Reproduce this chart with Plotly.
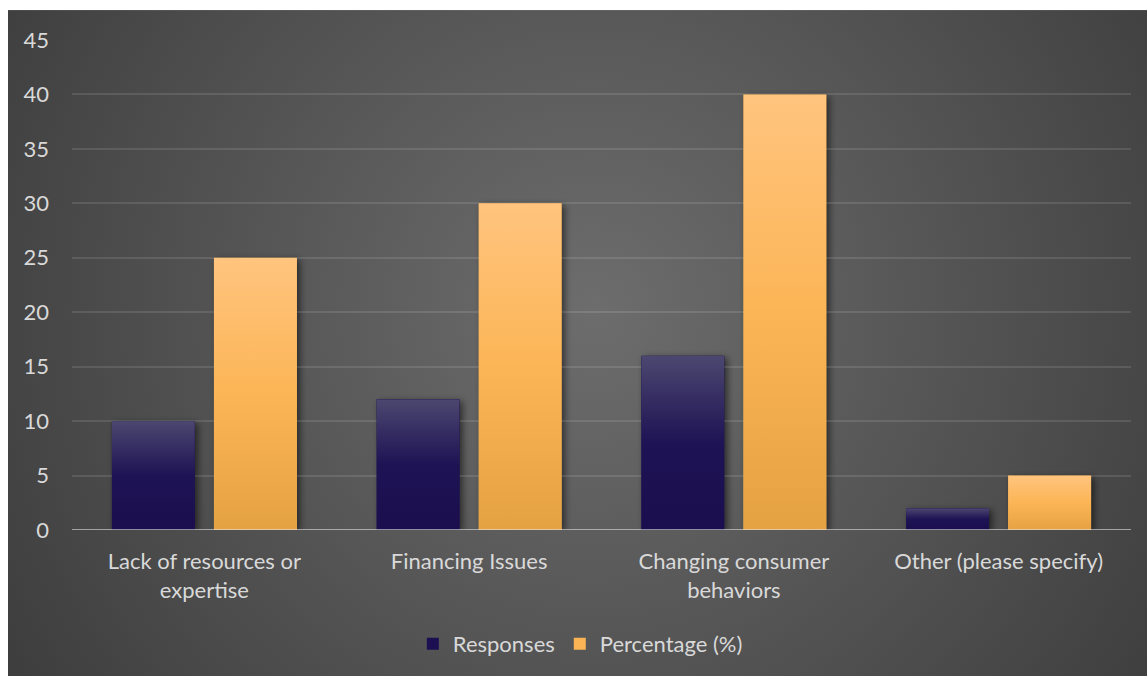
import base64
import plotly.graph_objects as go

# --- data -------------------------------------------------------------
categories = [
    "Lack of resources or expertise",
    "Financing Issues",
    "Changing consumer behaviors",
    "Other (please specify)",
]
tick_labels = [
    "Lack of resources or<br>expertise",
    "Financing Issues",
    "Changing consumer<br>behaviors",
    "Other (please specify)",
]
responses = [10, 12, 16, 2]
percentage = [25, 30, 40, 5]
y_ticks = [0, 5, 10, 15, 20, 25, 30, 35, 40, 45]

# --- layout constants -------------------------------------------------
W, H = 1147, 676
M_L, M_R, M_T, M_B = 72, 16, 40, 145
PLOT_W = W - M_L - M_R
PLOT_H = H - M_T - M_B
Y_MAX = 45
BAR_W = 0.3135
FONT = "Lato"
FONT_SIZE = 22
TEXT_COL = "#d9d9d9"

x_pos = list(range(len(categories)))
px_per_x = PLOT_W / len(categories)
px_per_y = PLOT_H / Y_MAX


def svg_uri(svg):
    return "data:image/svg+xml;base64," + base64.b64encode(svg.encode()).decode()


def gradient_svg(stops):
    st = "".join(f'<stop offset="{o}" stop-color="{c}"/>' for o, c in stops)
    return svg_uri(
        '<svg xmlns="http://www.w3.org/2000/svg" width="100" height="100" '
        'viewBox="0 0 100 100" preserveAspectRatio="none">'
        f'<defs><linearGradient id="g" x1="0" y1="0" x2="0" y2="1">{st}</linearGradient></defs>'
        '<rect x="0" y="0" width="100" height="100" fill="url(#g)"/></svg>'
    )


def shadow_svg(w, h, pad):
    return svg_uri(
        f'<svg xmlns="http://www.w3.org/2000/svg" width="{w + 2 * pad:.1f}" height="{h + 2 * pad:.1f}" '
        f'viewBox="0 0 {w + 2 * pad:.1f} {h + 2 * pad:.1f}" preserveAspectRatio="none">'
        '<defs><filter id="b" x="-50%" y="-50%" width="200%" height="200%">'
        '<feGaussianBlur stdDeviation="3.5"/></filter></defs>'
        f'<rect x="{pad + 3}" y="{pad + 2}" width="{w:.1f}" height="{h:.1f}" '
        'fill="#000" fill-opacity="0.55" filter="url(#b)"/></svg>'
    )


series = [
    dict(name="Responses", values=responses, offset=-0.3495, color="#1c1052",
         stops=[(0, "#4c4770"), (0.5, "#1e1354"), (1, "#1a0e4e")]),
    dict(name="Percentage (%)", values=percentage, offset=0.036, color="#fbb455",
         stops=[(0, "#ffc47e"), (0.5, "#fcb556"), (1, "#e5a242")]),
]

fig = go.Figure()
images = []

# chart-area background: soft radial grey gradient (runs past the right/bottom edge)
bg_w, bg_h = W - 8 + 12, H - 10 + 12
bg_svg = svg_uri(
    f'<svg xmlns="http://www.w3.org/2000/svg" width="{bg_w}" height="{bg_h}" '
    f'viewBox="0 0 {bg_w} {bg_h}" preserveAspectRatio="none">'
    '<defs><radialGradient id="r" gradientUnits="userSpaceOnUse" cx="585" cy="300" r="680">'
    '<stop offset="0" stop-color="#6d6d6d"/><stop offset="1" stop-color="#3e3e3e"/>'
    '</radialGradient></defs>'
    f'<rect x="0" y="0" width="{bg_w}" height="{bg_h}" fill="url(#r)"/></svg>'
)
images.append(dict(
    source=bg_svg, xref="paper", yref="paper",
    x=(8 - M_L) / PLOT_W, y=(H - M_B - 10) / PLOT_H,
    sizex=bg_w / PLOT_W, sizey=bg_h / PLOT_H,
    xanchor="left", yanchor="top", sizing="stretch", layer="below",
))

for s in series:
    fig.add_trace(go.Bar(
        x=x_pos, y=s["values"], name=s["name"],
        width=BAR_W, offset=s["offset"],
        marker=dict(color=s["color"], line=dict(width=0)),
        customdata=categories,
        hovertemplate="%{customdata}<br>" + s["name"] + ": %{y}<extra></extra>",
    ))
    grad = gradient_svg(s["stops"])
    pad = 10
    for xi, v in zip(x_pos, s["values"]):
        # soft drop shadow behind each bar
        images.append(dict(
            source=shadow_svg(BAR_W * px_per_x, v * px_per_y, pad),
            xref="x", yref="y",
            x=xi + s["offset"] - pad / px_per_x, y=v + pad / px_per_y,
            sizex=BAR_W + 2 * pad / px_per_x, sizey=v + 2 * pad / px_per_y,
            xanchor="left", yanchor="top", sizing="stretch", layer="below",
        ))
        # vertical gradient fill over the bar
        images.append(dict(
            source=grad, xref="x", yref="y",
            x=xi + s["offset"], y=v, sizex=BAR_W, sizey=v,
            xanchor="left", yanchor="top", sizing="stretch", layer="above",
        ))

fig.update_layout(
    width=W, height=H,
    margin=dict(l=M_L, r=M_R, t=M_T, b=M_B),
    paper_bgcolor="white",
    plot_bgcolor="rgba(0,0,0,0)",
    font=dict(family=FONT, size=FONT_SIZE, color=TEXT_COL),
    images=images,
    showlegend=True,
    legend=dict(
        orientation="h", x=0.480, xanchor="center",
        y=(H - M_B - 644) / PLOT_H, yanchor="middle",
        font=dict(family=FONT, size=FONT_SIZE, color=TEXT_COL),
        bgcolor="rgba(0,0,0,0)", itemclick=False,
    ),
    shapes=[dict(
        type="line", xref="paper", yref="y", x0=0, x1=1, y0=0, y1=0,
        line=dict(color="rgba(225,225,225,0.6)", width=2), layer="above",
    )],
    xaxis=dict(
        range=[-0.5, len(categories) - 0.5],
        tickmode="array", tickvals=x_pos, ticktext=tick_labels,
        showgrid=False, zeroline=False, showline=False, ticks="",
        tickfont=dict(family=FONT, size=FONT_SIZE, color=TEXT_COL),
        ticklabelstandoff=16, fixedrange=True,
    ),
    yaxis=dict(
        range=[0, Y_MAX], tickmode="array", tickvals=y_ticks,
        showgrid=True, gridcolor="rgba(255,255,255,0.11)", gridwidth=1.5,
        zeroline=False, showline=False, ticks="",
        tickfont=dict(family=FONT, size=FONT_SIZE, color=TEXT_COL),
        ticklabelstandoff=22, fixedrange=True,
    ),
)

fig.write_html("out.html")
